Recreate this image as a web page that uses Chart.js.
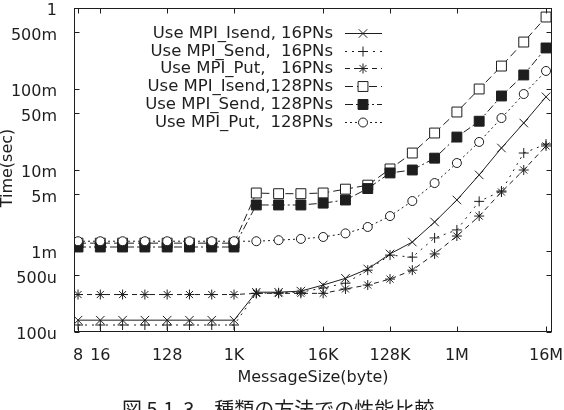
<!DOCTYPE html>
<html>
<head>
<meta charset="utf-8">
<script src="https://cdn.jsdelivr.net/npm/chart.js@4.4.0/dist/chart.umd.min.js"></script>
<style>
html, body { margin: 0; padding: 0; background: #fff; }
#wrap { width: 564px; height: 410px; }
</style>
</head>
<body>
<div id="wrap"><canvas id="perfChart"></canvas></div>
<script>
// message sizes in bytes
var msgSize = [8, 16, 32, 64, 128, 256, 512, 1024, 2048, 4096, 8192, 16384,
    32768, 65536, 131072, 262144, 524288, 1048576, 2097152, 4194304, 8388608, 16777216];

// time in seconds
var isend16 = [1.4e-4, 1.4e-4, 1.4e-4, 1.4e-4, 1.4e-4, 1.4e-4, 1.4e-4, 1.4e-4,
    3.1e-4, 3.1e-4, 3.2e-4, 3.8e-4, 4.6e-4, 6.0e-4, 9.2e-4, 1.29e-3,
    2.28e-3, 4.26e-3, 8.7e-3, 1.87e-2, 3.8e-2, 8.0e-2];
var send16 = [1.22e-4, 1.22e-4, 1.22e-4, 1.22e-4, 1.22e-4, 1.22e-4, 1.22e-4, 1.22e-4,
    3.0e-4, 3.05e-4, 3.1e-4, 3.5e-4, 4.0e-4, 5.8e-4, 8.9e-4, 8.4e-4,
    1.45e-3, 1.82e-3, 4.1e-3, 5.5e-3, 1.62e-2, 2.09e-2];
var put16 = [2.9e-4, 2.9e-4, 2.9e-4, 2.9e-4, 2.9e-4, 2.9e-4, 2.9e-4, 2.9e-4,
    3.0e-4, 3.0e-4, 3.0e-4, 3.0e-4, 3.4e-4, 3.8e-4, 4.5e-4, 5.8e-4,
    9.2e-4, 1.53e-3, 2.7e-3, 5.35e-3, 1.0e-2, 1.98e-2];
var isend128 = [1.25e-3, 1.25e-3, 1.25e-3, 1.25e-3, 1.25e-3, 1.25e-3, 1.25e-3, 1.25e-3,
    5.2e-3, 5.1e-3, 5.1e-3, 5.2e-3, 5.8e-3, 6.5e-3, 1.03e-2, 1.62e-2,
    2.86e-2, 5.2e-2, 0.1, 0.192, 0.38, 0.774];
var send128 = [1.12e-3, 1.12e-3, 1.12e-3, 1.12e-3, 1.12e-3, 1.12e-3, 1.12e-3, 1.12e-3,
    3.7e-3, 3.7e-3, 3.7e-3, 3.9e-3, 4.26e-3, 5.9e-3, 9.2e-3, 1.0e-2,
    1.4e-2, 2.55e-2, 4.0e-2, 8.2e-2, 0.149, 0.321];
var put128 = [1.32e-3, 1.32e-3, 1.32e-3, 1.32e-3, 1.32e-3, 1.32e-3, 1.32e-3, 1.32e-3,
    1.32e-3, 1.36e-3, 1.41e-3, 1.49e-3, 1.65e-3, 1.98e-3, 2.7e-3, 4.14e-3,
    6.9e-3, 1.22e-2, 2.22e-2, 4.38e-2, 8.67e-2, 0.167];

var seriesNames = ['Use MPI_Isend, 16PNs', 'Use MPI_Send,  16PNs', 'Use MPI_Put,   16PNs',
    'Use MPI_Isend,128PNs', 'Use MPI_Send, 128PNs', 'Use MPI_Put,  128PNs'];

var xTicks = [8, 16, 128, 1024, 16384, 131072, 1048576, 16777216];
var xTickLabels = ['8', '16', '128', '1K', '16K', '128K', '1M', '16M'];
var yTicks = [1e-4, 5e-4, 1e-3, 5e-3, 1e-2, 5e-2, 1e-1, 5e-1, 1];
var yTickLabels = ['100u', '500u', '1m', '5m', '10m', '50m', '100m', '500m', '1'];

var ink = '#1e1e1e';
var fontFam = '"DejaVu Sans", sans-serif';

function pts(vals) {
    return vals.map(function (v, i) { return { x: msgSize[i], y: v }; });
}

function series(i, vals, style, radius, fill, dash) {
    return {
        label: seriesNames[i],
        data: pts(vals),
        order: 6 - i,
        borderColor: ink,
        borderWidth: 1,
        borderDash: dash,
        pointStyle: style,
        pointRadius: radius,
        pointBorderColor: ink,
        pointBackgroundColor: fill,
        pointBorderWidth: 1,
        pointHoverRadius: radius,
        tension: 0,
        fill: false
    };
}

var frameAndLegend = {
    id: 'frameAndLegend',
    afterDatasetsDraw: function (chart) {
        var ctx = chart.ctx, a = chart.chartArea;
        var xs = chart.scales.x, ys = chart.scales.y;
        ctx.save();
        ctx.strokeStyle = ink;
        ctx.lineWidth = 1;
        ctx.setLineDash([]);
        var L = Math.round(a.left) + 0.5, R = Math.round(a.right) - 0.5;
        var T = Math.round(a.top) + 0.5, B = Math.round(a.bottom) - 0.5;
        ctx.strokeRect(L, T, R - L, B - T);
        ctx.beginPath();
        xTicks.forEach(function (v) {
            var px = Math.round(xs.getPixelForValue(v)) + 0.5;
            ctx.moveTo(px, B); ctx.lineTo(px, B - 5);
            ctx.moveTo(px, T); ctx.lineTo(px, T + 5);
        });
        yTicks.forEach(function (v) {
            var py = Math.round(ys.getPixelForValue(v)) + 0.5;
            ctx.moveTo(L, py); ctx.lineTo(L + 5, py);
            ctx.moveTo(R, py); ctx.lineTo(R - 5, py);
        });
        ctx.stroke();

        // key, gnuplot style: text right aligned, sample on the right
        ctx.font = '16.5px ' + fontFam;
        ctx.textAlign = 'right';
        ctx.textBaseline = 'middle';
        chart.data.datasets.forEach(function (ds, i) {
            var y = Math.round(33 + i * 17.7) + 0.5;
            ctx.fillStyle = ink;
            ctx.fillText(ds.label, 333, y);
            ctx.strokeStyle = ink;
            ctx.setLineDash(ds.borderDash);
            ctx.beginPath();
            ctx.moveTo(345, y);
            ctx.lineTo(382, y);
            ctx.stroke();
            ctx.setLineDash([]);
            ctx.fillStyle = ds.pointBackgroundColor;
            Chart.helpers.drawPoint(ctx, {
                pointStyle: ds.pointStyle,
                radius: ds.pointRadius,
                rotation: 0,
                borderWidth: 1
            }, 363, y);
        });
        ctx.restore();
    },
    afterDraw: function (chart) {
        var ctx = chart.ctx;
        ctx.save();
        ctx.fillStyle = ink;
        ctx.font = '16px ' + fontFam;
        ctx.textAlign = 'center';
        ctx.textBaseline = 'middle';
        ctx.fillText('MessageSize(byte)', 313, 378);
        ctx.translate(12, 168);
        ctx.rotate(-Math.PI / 2);
        ctx.textBaseline = 'alphabetic';
        ctx.fillText('Time(sec)', 0, 0);
        ctx.restore();

        ctx.save();
        ctx.fillStyle = ink;
        ctx.font = '20px "Noto Sans CJK JP", sans-serif';
        ctx.textAlign = 'left';
        ctx.textBaseline = 'alphabetic';
        ctx.fillText('図 5.1  3\u3000種類の方法での性能比較', 122, 417);
        ctx.restore();
    }
};

var ctx = document.getElementById('perfChart').getContext('2d');

var perfChart = new Chart(ctx, {
    type: 'line',
    data: {
        datasets: [
            series(0, isend16, 'crossRot', 6, ink, []),
            series(1, send16, 'cross', 5, ink, [2, 5]),
            series(2, put16, 'star', 5, ink, [5, 4]),
            series(3, isend128, 'rect', 7, '#ffffff', [8, 4]),
            series(4, send128, 'rect', 7, ink, [8, 3, 2, 3]),
            series(5, put128, 'circle', 4.5, '#ffffff', [2, 3])
        ]
    },
    options: {
        responsive: true,
        maintainAspectRatio: false,
        animation: false,
        devicePixelRatio: 1,
        layout: { padding: { left: 0, top: 8, right: 12, bottom: 0 } },
        plugins: {
            legend: { display: false },
            tooltip: { enabled: false }
        },
        scales: {
            x: {
                type: 'logarithmic',
                min: 7.06,
                max: 20.2e6,
                grid: { display: false },
                border: { display: false },
                afterBuildTicks: function (scale) {
                    scale.ticks = xTicks.map(function (v) { return { value: v }; });
                },
                afterFit: function (scale) {
                    scale.height = 78;
                    scale.paddingLeft = 0;
                    scale.paddingRight = 0;
                },
                ticks: {
                    autoSkip: false,
                    maxRotation: 0,
                    padding: 6,
                    color: ink,
                    font: { family: fontFam, size: 16 },
                    callback: function (v, i) { return xTickLabels[i]; }
                }
            },
            y: {
                type: 'logarithmic',
                min: 1e-4,
                max: 1,
                grid: { display: false },
                border: { display: false },
                afterBuildTicks: function (scale) {
                    scale.ticks = yTicks.map(function (v) { return { value: v }; });
                },
                afterFit: function (scale) {
                    scale.width = 74;
                    scale.paddingTop = 0;
                    scale.paddingBottom = 0;
                },
                ticks: {
                    autoSkip: false,
                    padding: 9,
                    labelOffset: 3,
                    color: ink,
                    font: { family: fontFam, size: 16 },
                    callback: function (v, i) { return yTickLabels[i]; }
                }
            }
        }
    },
    plugins: [frameAndLegend]
});
</script>
</body>
</html>
